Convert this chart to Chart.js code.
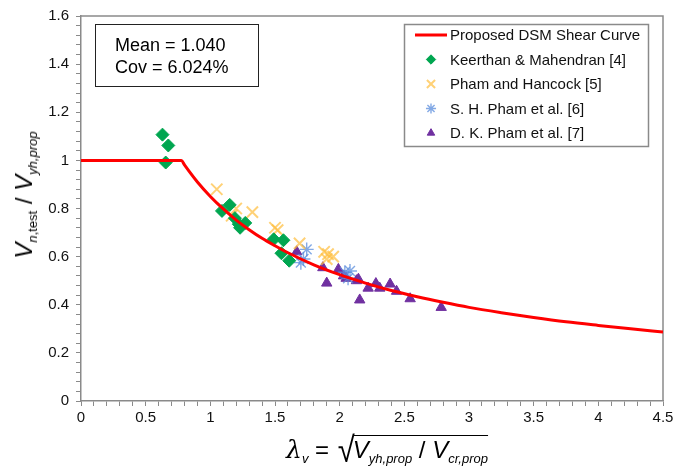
<!DOCTYPE html>
<html lang="en">
<head>
  <meta charset="UTF-8" />
  <title>DSM Shear Curve vs Test Results</title>
  <script src="https://cdn.jsdelivr.net/npm/chart.js"></script>
  <style>
    body {
      margin: 0;
      background: #fff;
      font-family: "Liberation Sans", Arial, sans-serif;
    }
    #wrap {
      position: relative;
      width: 689px;
      height: 470px;
    }
    #statsBox {
      position: absolute;
      left: 95px;
      top: 24px;
      width: 164px;
      height: 63px;
      border: 1.5px solid #222;
      font-size: 18px;
      line-height: 22px;
      padding: 1px 0 0 19px;
      box-sizing: border-box;
      display: flex;
      flex-direction: column;
      justify-content: center;
      color: #000;
    }
    #yTitle {
      position: absolute;
      left: 25px;
      top: 195px;
      transform: translate(-50%, -50%) rotate(-90deg);
      white-space: nowrap;
      font-size: 24px;
      color: #000;
    }
    #xTitle {
      position: absolute;
      left: 387px;
      top: 451px;
      transform: translate(-50%, -50%);
      white-space: nowrap;
      font-size: 24px;
      color: #000;
    }
    sub {
      font-size: 13px;
      vertical-align: -5px;
    }
    .lam {
      font-family: "DejaVu Serif", "Liberation Serif", serif;
      font-style: italic;
      font-size: 25px;
    }
    .rad {
      display: inline-block;
      font-size: 31px;
      transform: scaleY(1.15);
      vertical-align: -3px;
      margin-left: 2px;
    }
    .under {
      display: inline-block;
      border-top: 1.5px solid #000;
      padding-top: 0px;
      margin-left: -2px;
    }
  </style>
</head>
<body>
  <div id="wrap">
    <canvas id="shearChart" width="689" height="470"></canvas>
    <div id="statsBox"><div>Mean = 1.040</div><div>Cov = 6.024%</div></div>
    <div id="yTitle"><i>V</i><sub><i>n</i>,test</sub> / <i>V</i><sub><i>yh,prop</i></sub></div>
    <div id="xTitle"><span class="lam">λ</span><sub><i>v</i></sub> = <span class="rad">√</span><span class="under"><i>V</i><sub><i>yh,prop</i></sub> / <i>V</i><sub><i>cr,prop</i></sub></span></div>
  </div>

  <script>
    // proposed DSM shear curve (slenderness vs normalised capacity)
    const curveLambda = [0, 0.776, 0.8, 0.9, 1.0, 1.1, 1.2, 1.3, 1.4, 1.5, 1.6, 1.8, 2.0, 2.2, 2.4, 2.6, 2.8, 3.0, 3.25, 3.5, 3.75, 4.0, 4.25, 4.5];
    const curveRatio = [1, 1, 0.981, 0.910, 0.850, 0.798, 0.752, 0.712, 0.676, 0.645, 0.616, 0.566, 0.525, 0.490, 0.459, 0.433, 0.410, 0.389, 0.367, 0.347, 0.329, 0.314, 0.300, 0.287];

    // Keerthan & Mahendran [4]
    const kmLambda = [0.63, 0.675, 0.655, 1.09, 1.15, 1.19, 1.22, 1.27, 1.23, 1.49, 1.565, 1.55, 1.61];
    const kmRatio = [1.107, 1.062, 0.991, 0.79, 0.815, 0.76, 0.735, 0.74, 0.72, 0.672, 0.668, 0.614, 0.583];

    // Pham and Hancock [5]
    const phLambda = [1.05, 1.2, 1.165, 1.325, 1.50, 1.52, 1.69, 1.88, 1.91, 1.95, 1.90];
    const phRatio = [0.88, 0.80, 0.77, 0.785, 0.72, 0.71, 0.655, 0.62, 0.61, 0.60, 0.59];

    // S. H. Pham et al. [6]
    const shLambda = [1.745, 1.70, 1.72, 2.04, 2.08, 2.065];
    const shRatio = [0.63, 0.575, 0.59, 0.535, 0.54, 0.51];

    // D. K. Pham et al. [7]
    const dkLambda = [1.668, 1.87, 1.90, 1.99, 2.03, 2.05, 2.13, 2.145, 2.155, 2.22, 2.28, 2.31, 2.39, 2.44, 2.545, 2.785];
    const dkRatio = [0.62, 0.554, 0.49, 0.547, 0.52, 0.51, 0.50, 0.506, 0.42, 0.469, 0.488, 0.469, 0.486, 0.456, 0.425, 0.389];

    const seriesNames = ['Proposed DSM Shear Curve', 'Keerthan & Mahendran [4]', 'Pham and Hancock [5]', 'S. H. Pham et al. [6]', 'D. K. Pham et al. [7]'];

    const toPoints = (xs, ys) => xs.map((x, i) => ({ x: x, y: ys[i] }));

    // legend box drawn in the upper right of the plot
    const boxLegend = {
      id: 'boxLegend',
      afterDraw(chart) {
        const ctx = chart.ctx;
        ctx.save();
        ctx.strokeStyle = '#8a8a8a';
        ctx.lineWidth = 1.5;
        ctx.fillStyle = '#fff';
        ctx.fillRect(404, 24, 244, 122);
        ctx.strokeRect(404.5, 24.5, 244, 122);
        ctx.font = '15px "Liberation Sans", Arial, sans-serif';
        ctx.textBaseline = 'middle';
        chart.data.datasets.forEach((ds, i) => {
          const y = 35 + i * 24.5;
          if (i === 0) {
            ctx.strokeStyle = ds.borderColor;
            ctx.lineWidth = 3;
            ctx.beginPath();
            ctx.moveTo(415, y);
            ctx.lineTo(447, y);
            ctx.stroke();
          } else {
            ctx.fillStyle = ds.pointBackgroundColor;
            ctx.strokeStyle = ds.pointBorderColor;
            ctx.lineWidth = ds.pointBorderWidth;
            Chart.helpers.drawPoint(ctx, {
              pointStyle: ds.pointStyle,
              radius: ds.pointRadius * 0.72,
              rotation: 0,
              borderWidth: ds.pointBorderWidth
            }, 431, y);
          }
          ctx.fillStyle = '#111';
          ctx.fillText(ds.label, 450, y + 1);
        });
        ctx.restore();
      }
    };

    // top and right edges of the plot frame
    const plotFrame = {
      id: 'plotFrame',
      beforeDatasetsDraw(chart) {
        const a = chart.chartArea;
        const ctx = chart.ctx;
        ctx.save();
        ctx.strokeStyle = '#8a8a8a';
        ctx.lineWidth = 1.5;
        ctx.beginPath();
        ctx.moveTo(a.left, a.top);
        ctx.lineTo(a.right, a.top);
        ctx.lineTo(a.right, a.bottom);
        ctx.stroke();
        ctx.restore();
      }
    };

    const ctx = document.getElementById('shearChart').getContext('2d');

    new Chart(ctx, {
      type: 'scatter',
      data: {
        datasets: [
          {
            type: 'line',
            label: seriesNames[0],
            data: toPoints(curveLambda, curveRatio),
            borderColor: '#ff0000',
            borderWidth: 3,
            pointRadius: 0,
            fill: false,
            cubicInterpolationMode: 'monotone',
            order: 0
          },
          {
            label: seriesNames[1],
            data: toPoints(kmLambda, kmRatio),
            pointStyle: 'rectRot',
            pointRadius: 6.5,
            pointBackgroundColor: '#00a650',
            pointBorderColor: '#00a650',
            pointBorderWidth: 1,
            order: 1
          },
          {
            label: seriesNames[2],
            data: toPoints(phLambda, phRatio),
            pointStyle: 'crossRot',
            pointRadius: 8,
            pointBackgroundColor: 'rgba(255, 190, 60, 0.7)',
            pointBorderColor: 'rgba(255, 190, 60, 0.7)',
            pointBorderWidth: 2,
            order: 2
          },
          {
            label: seriesNames[3],
            data: toPoints(shLambda, shRatio),
            pointStyle: 'star',
            pointRadius: 7,
            pointBackgroundColor: 'rgba(90, 140, 220, 0.75)',
            pointBorderColor: 'rgba(90, 140, 220, 0.75)',
            pointBorderWidth: 1.4,
            order: 3
          },
          {
            label: seriesNames[4],
            data: toPoints(dkLambda, dkRatio),
            pointStyle: 'triangle',
            pointRadius: 6,
            pointBackgroundColor: '#7030a0',
            pointBorderColor: '#7030a0',
            pointBorderWidth: 1,
            order: 4
          }
        ]
      },
      options: {
        responsive: false,
        animation: false,
        devicePixelRatio: 1,
        layout: {
          padding: { left: 0, right: 26, top: 13, bottom: 0 }
        },
        plugins: {
          legend: { display: false },
          tooltip: { enabled: false }
        },
        scales: {
          x: {
            type: 'linear',
            min: 0,
            max: 4.5,
            afterFit: (scale) => { scale.height = 69; },
            afterBuildTicks: (scale) => {
              const t = [];
              for (let i = 0; i <= 45; i++) t.push({ value: i / 10 });
              scale.ticks = t;
            },
            grid: {
              drawOnChartArea: false,
              drawTicks: true,
              tickLength: 5,
              color: '#8a8a8a'
            },
            border: { color: '#8a8a8a', width: 1.5 },
            ticks: {
              autoSkip: false,
              maxRotation: 0,
              padding: 3,
              color: '#111',
              font: { family: '"Liberation Sans", Arial, sans-serif', size: 15 },
              callback: (v) => {
                const k = v / 0.5;
                return Math.abs(k - Math.round(k)) < 1e-6 ? String(Number(v.toFixed(1))) : '';
              }
            }
          },
          y: {
            type: 'linear',
            min: 0,
            max: 1.6,
            afterFit: (scale) => { scale.width = 81; },
            afterBuildTicks: (scale) => {
              const t = [];
              for (let i = 0; i <= 40; i++) t.push({ value: i * 0.04 });
              scale.ticks = t;
            },
            grid: {
              drawOnChartArea: false,
              drawTicks: true,
              tickLength: 5,
              color: '#8a8a8a'
            },
            border: { color: '#8a8a8a', width: 1.5 },
            ticks: {
              autoSkip: false,
              padding: 7,
              color: '#111',
              font: { family: '"Liberation Sans", Arial, sans-serif', size: 15 },
              callback: (v) => {
                const k = v / 0.2;
                return Math.abs(k - Math.round(k)) < 1e-6 ? String(Number(v.toFixed(1))) : '';
              }
            }
          }
        }
      },
      plugins: [plotFrame, boxLegend]
    });
  </script>
</body>
</html>
